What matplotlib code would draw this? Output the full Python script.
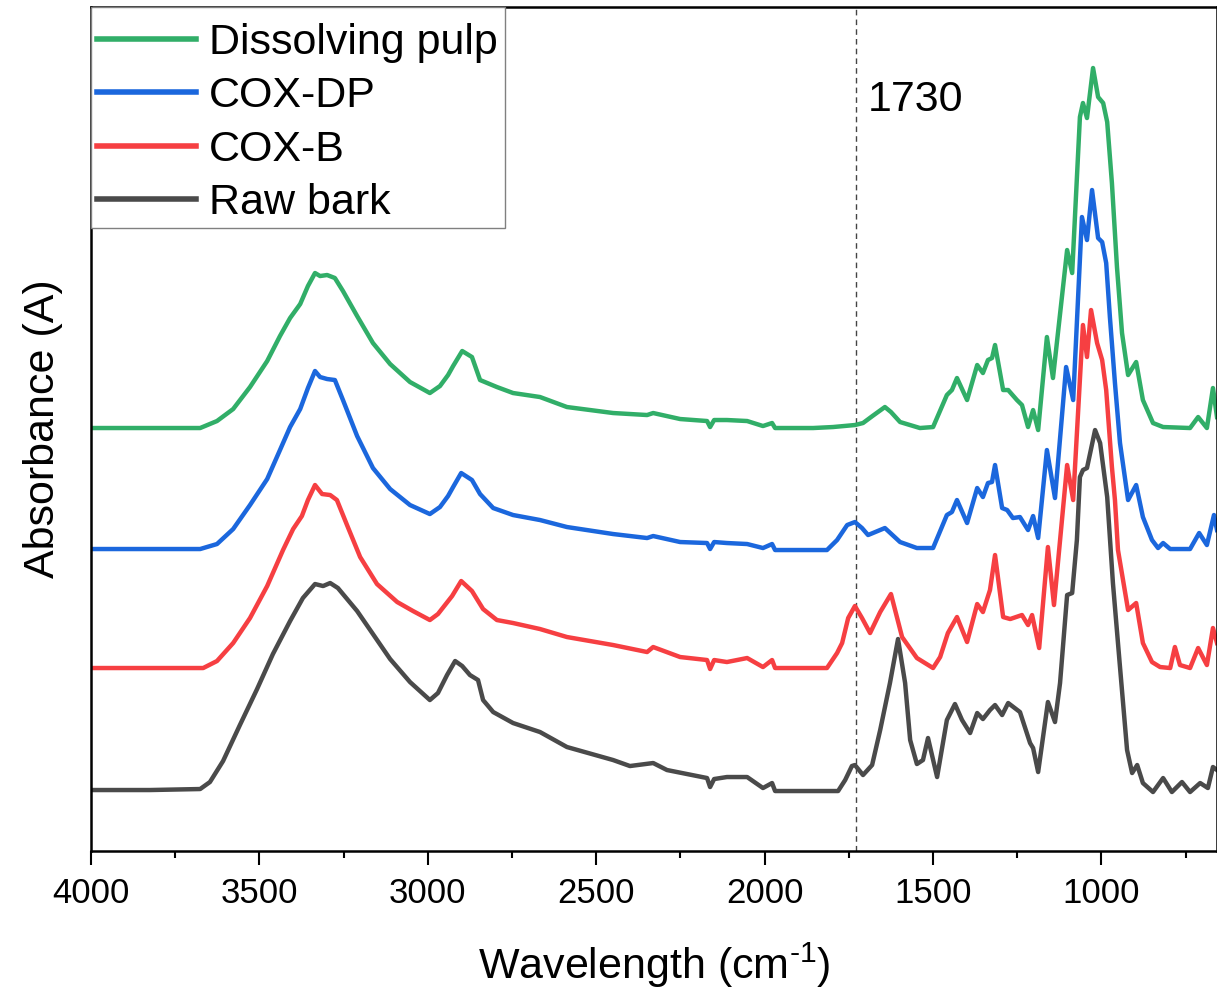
import matplotlib
matplotlib.use("Agg")
import matplotlib.pyplot as plt
from matplotlib.patches import Rectangle

plt.rcParams['font.family'] = ['Liberation Sans', 'DejaVu Sans']
plt.rcParams['mathtext.fontset'] = 'custom'
plt.rcParams['mathtext.rm'] = 'Liberation Sans'

# FTIR spectra (stacked, absorbance in a.u.)
wn_pulp = [4000, 3825, 3676, 3626, 3578, 3528, 3477, 3439, 3409, 3379, 3356, 3335, 3320, 3299, 3276,
           3252, 3210, 3163, 3112, 3053, 2994, 2964, 2940, 2925, 2898, 2869, 2845, 2795, 2747, 2667,
           2587, 2450, 2349, 2331, 2251, 2171, 2162, 2150, 2112, 2052, 2005, 1978, 1969, 1856, 1797,
           1732, 1708, 1680, 1643, 1625, 1598, 1539, 1500, 1459, 1444, 1429, 1399, 1369, 1352, 1337,
           1325, 1316, 1292, 1277, 1251, 1236, 1218, 1203, 1188, 1162, 1144, 1102, 1087, 1064, 1055,
           1043, 1025, 1010, 995, 983, 969, 954, 939, 921, 897, 877, 847, 817, 737, 713, 687, 669, 657]
abs_pulp = [4.23, 4.23, 4.23, 4.30, 4.42, 4.64, 4.90, 5.15, 5.33, 5.47, 5.65, 5.78, 5.75, 5.76, 5.73,
            5.60, 5.35, 5.08, 4.87, 4.69, 4.58, 4.65, 4.76, 4.85, 5.00, 4.94, 4.71, 4.64, 4.58, 4.54,
            4.44, 4.38, 4.36, 4.38, 4.32, 4.30, 4.24, 4.31, 4.31, 4.30, 4.25, 4.28, 4.23, 4.23, 4.24,
            4.26, 4.28, 4.35, 4.44, 4.39, 4.29, 4.23, 4.24, 4.56, 4.61, 4.73, 4.51, 4.86, 4.78, 4.91,
            4.93, 5.06, 4.61, 4.61, 4.51, 4.46, 4.24, 4.41, 4.21, 5.14, 4.73, 6.01, 5.78, 7.34, 7.48,
            7.33, 7.83, 7.54, 7.48, 7.29, 6.68, 5.84, 5.18, 4.76, 4.89, 4.51, 4.28, 4.24, 4.23, 4.34,
            4.23, 4.63, 4.34]

wn_coxdp = [4000, 3825, 3676, 3626, 3578, 3528, 3477, 3439, 3409, 3379, 3356, 3335, 3320, 3299, 3276,
            3252, 3210, 3163, 3112, 3053, 2994, 2964, 2940, 2925, 2901, 2869, 2845, 2806, 2747, 2667,
            2587, 2450, 2349, 2331, 2251, 2171, 2162, 2150, 2112, 2052, 2005, 1978, 1969, 1815, 1785,
            1755, 1732, 1711, 1693, 1643, 1598, 1548, 1500, 1459, 1444, 1429, 1399, 1369, 1352, 1337,
            1325, 1316, 1295, 1280, 1263, 1242, 1218, 1203, 1188, 1162, 1138, 1105, 1084, 1058, 1043,
            1028, 1010, 998, 986, 975, 960, 945, 921, 897, 877, 850, 832, 817, 796, 737, 710, 687, 666, 657]
abs_coxdp = [3.02, 3.02, 3.02, 3.07, 3.22, 3.46, 3.72, 4.01, 4.24, 4.42, 4.63, 4.80, 4.74, 4.72, 4.71,
             4.51, 4.15, 3.83, 3.62, 3.46, 3.37, 3.44, 3.55, 3.64, 3.78, 3.71, 3.57, 3.43, 3.36, 3.31,
             3.24, 3.17, 3.13, 3.15, 3.09, 3.08, 3.02, 3.09, 3.08, 3.07, 3.03, 3.07, 3.01, 3.01, 3.11,
             3.26, 3.29, 3.23, 3.16, 3.23, 3.09, 3.03, 3.03, 3.36, 3.39, 3.51, 3.28, 3.63, 3.54, 3.68,
             3.69, 3.86, 3.43, 3.41, 3.33, 3.34, 3.21, 3.35, 3.13, 4.01, 3.53, 4.84, 4.51, 6.34, 6.11,
             6.61, 6.13, 6.09, 5.88, 5.34, 4.68, 4.08, 3.51, 3.66, 3.34, 3.11, 3.03, 3.08, 3.02, 3.02,
             3.18, 3.06, 3.36, 3.21]

wn_coxb = [4000, 3825, 3667, 3626, 3578, 3528, 3477, 3430, 3400, 3374, 3356, 3335, 3314, 3290, 3270,
           3240, 3201, 3151, 3091, 3044, 2994, 2970, 2949, 2928, 2901, 2869, 2836, 2795, 2747, 2667,
           2587, 2450, 2349, 2331, 2251, 2171, 2162, 2150, 2112, 2052, 2005, 1978, 1969, 1815, 1785,
           1770, 1752, 1732, 1711, 1687, 1657, 1625, 1592, 1548, 1500, 1479, 1456, 1429, 1399, 1369,
           1352, 1331, 1316, 1292, 1271, 1236, 1218, 1206, 1185, 1159, 1141, 1102, 1084, 1055, 1043,
           1031, 1013, 998, 986, 969, 960, 951, 921, 897, 877, 850, 826, 796, 782, 767, 737, 713, 687,
           669, 657]
abs_coxb = [1.83, 1.83, 1.83, 1.90, 2.08, 2.33, 2.65, 3.01, 3.22, 3.35, 3.51, 3.66, 3.57, 3.56, 3.51,
            3.26, 2.94, 2.67, 2.49, 2.40, 2.31, 2.37, 2.46, 2.55, 2.70, 2.60, 2.42, 2.31, 2.28, 2.22,
            2.14, 2.06, 1.99, 2.04, 1.94, 1.91, 1.82, 1.91, 1.89, 1.93, 1.84, 1.91, 1.83, 1.83, 1.98,
            2.08, 2.33, 2.45, 2.33, 2.18, 2.39, 2.57, 2.14, 1.93, 1.83, 1.94, 2.18, 2.34, 2.09, 2.47,
            2.39, 2.61, 2.96, 2.34, 2.32, 2.36, 2.26, 2.36, 2.03, 3.04, 2.46, 3.86, 3.51, 5.26, 4.94,
            5.41, 5.08, 4.91, 4.61, 3.84, 3.51, 3.01, 2.41, 2.48, 2.08, 1.89, 1.84, 1.83, 2.04, 1.86,
            1.83, 2.03, 1.86, 2.23, 2.08]

wn_bark = [4000, 3825, 3676, 3647, 3608, 3558, 3507, 3460, 3409, 3371, 3335, 3311, 3290, 3267, 3210,
           3163, 3112, 3053, 2994, 2970, 2943, 2919, 2898, 2875, 2851, 2836, 2806, 2747, 2667, 2587,
           2450, 2400, 2331, 2290, 2171, 2162, 2150, 2112, 2052, 2005, 1978, 1969, 1782, 1761, 1741,
           1732, 1708, 1681, 1657, 1628, 1604, 1583, 1568, 1548, 1530, 1515, 1488, 1459, 1435, 1414,
           1390, 1369, 1352, 1331, 1316, 1295, 1277, 1242, 1212, 1203, 1188, 1159, 1138, 1123, 1102,
           1087, 1073, 1064, 1055, 1043, 1019, 1004, 983, 966, 945, 924, 909, 894, 877, 847, 817, 791,
           761, 737, 707, 684, 669, 657]
abs_bark = [0.61, 0.61, 0.62, 0.69, 0.90, 1.26, 1.62, 1.97, 2.30, 2.53, 2.67, 2.65, 2.68, 2.63, 2.40,
            2.17, 1.92, 1.69, 1.51, 1.58, 1.76, 1.90, 1.85, 1.76, 1.71, 1.51, 1.39, 1.28, 1.19, 1.04,
            0.91, 0.85, 0.88, 0.81, 0.73, 0.64, 0.72, 0.74, 0.74, 0.63, 0.68, 0.60, 0.60, 0.71, 0.85,
            0.86, 0.76, 0.86, 1.21, 1.68, 2.12, 1.68, 1.11, 0.87, 0.91, 1.13, 0.74, 1.31, 1.47, 1.31,
            1.18, 1.38, 1.32, 1.41, 1.46, 1.36, 1.48, 1.39, 1.08, 1.03, 0.79, 1.49, 1.29, 1.68, 2.56,
            2.58, 3.11, 3.74, 3.81, 3.83, 4.21, 4.08, 3.54, 2.68, 1.84, 1.01, 0.78, 0.86, 0.68, 0.59,
            0.73, 0.59, 0.69, 0.59, 0.68, 0.63, 0.84, 0.81]

labels = ["Dissolving pulp", "COX-DP", "COX-B", "Raw bark"]
colors = ["#31ae68", "#1b67dd", "#f63f42", "#4a4a4a"]
marker_wn = 1730

fig = plt.figure(figsize=(12.17, 9.89), dpi=100)
ax = fig.add_axes([0.0748, 0.1395, 0.9252, 0.8534])

series = [(wn_pulp, abs_pulp), (wn_coxdp, abs_coxdp), (wn_coxb, abs_coxb), (wn_bark, abs_bark)]
for (x, y), lab, c in zip(series, labels, colors):
    ax.plot(x, y, color=c, lw=3.2, label=lab, solid_joinstyle='round')

ax.axvline(marker_wn, color='#444444', lw=1, ls=(0, (4, 3)), zorder=0)
ax.text(marker_wn - 35, 7.51, str(marker_wn), fontsize=31, va='center', ha='left')

ax.set_xlim(4000, 657)
ax.set_ylim(0, 8.44)
ax.set_xticks([4000, 3500, 3000, 2500, 2000, 1500, 1000])
ax.set_xticks(range(3750, 600, -500), minor=True)
ax.set_yticks([])
ax.tick_params(axis='x', which='major', direction='out', length=10, width=1.5, labelsize=25, pad=9)
ax.tick_params(axis='x', which='minor', direction='out', length=5, width=1.5)
for s in ['left', 'bottom', 'top', 'right']:
    ax.spines[s].set_linewidth(1.8)

ax.set_xlabel(r"Wavelength (cm$^{\text{-1}}$)", fontsize=31, labelpad=22)
ax.set_ylabel("Absorbance (A)", fontsize=31, labelpad=20)

# legend box drawn separately so the padding matches the original
ax.add_patch(Rectangle((0, 0.738), 0.3677, 0.262, transform=ax.transAxes, facecolor='white',
                       edgecolor='#808080', lw=1, zorder=4, clip_on=False))
leg = ax.legend(loc='upper left', bbox_to_anchor=(0.0053, 0.981), fontsize=31, frameon=False,
                borderaxespad=0, borderpad=0, handlelength=2.3, handletextpad=0.3,
                labelspacing=0.31)
for line in leg.get_lines():
    line.set_linewidth(4)

fig.savefig("out.png", dpi=100)
